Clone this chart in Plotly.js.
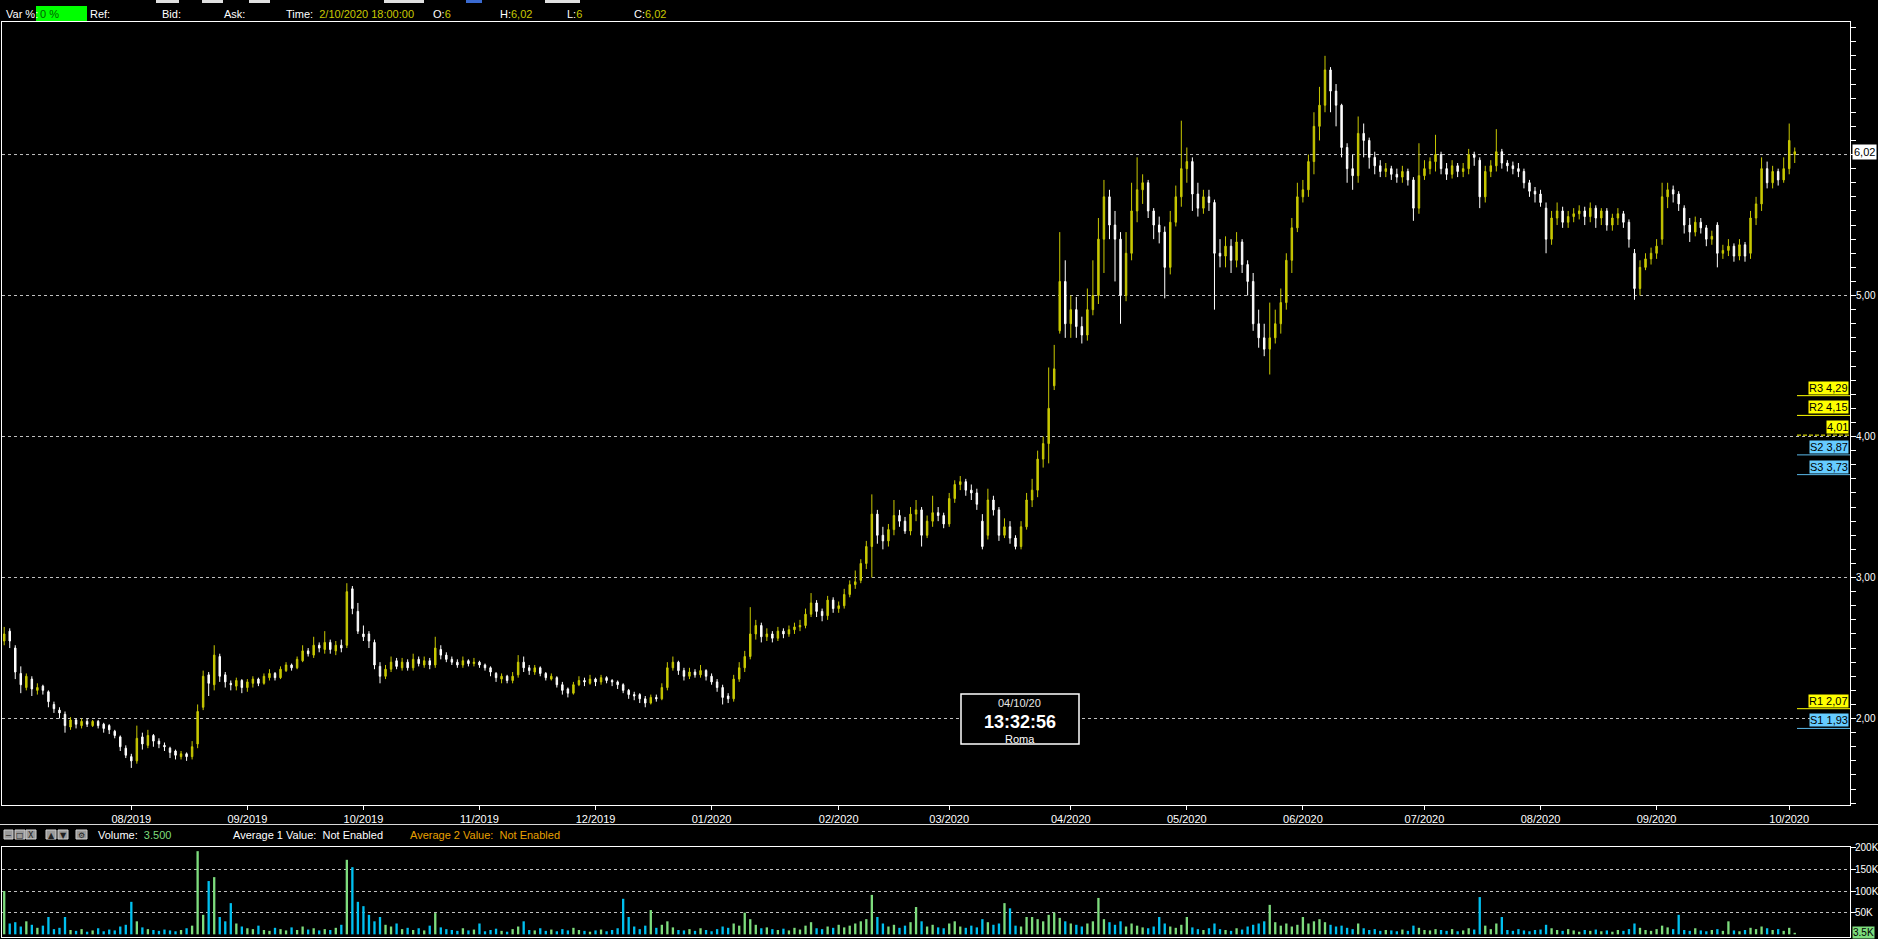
<!DOCTYPE html>
<html><head><meta charset="utf-8">
<script src="https://cdn.plot.ly/plotly-3.0.1.min.js"></script>
<style>html,body{margin:0;padding:0;background:#000;overflow:hidden}#chart{width:1878px;height:939px}</style>
</head><body><div id="chart"></div>
<script>
// ---------- DATA ----------
const monthLabels = ['08/2019','09/2019','10/2019','11/2019','12/2019','01/2020','02/2020','03/2020','04/2020','05/2020','06/2020','07/2020','08/2020','09/2020','10/2020'];
// bars in each month: 07/2019 ... 10/2020
const barsPerMonth = [23,21,21,21,21,21,23,20,22,21,21,22,21,21,24,2];

const openP = [
2.55,2.62,2.50,2.32,2.22,2.28,2.20,2.23,2.19,2.10,
2.06,2.03,1.94,1.99,1.95,1.98,1.95,1.98,1.96,1.95,
1.91,1.87,1.79,1.73,1.70,1.87,1.81,1.88,1.84,1.81,
1.79,1.77,1.73,1.75,1.73,1.82,2.08,2.31,2.24,2.44,
2.31,2.25,2.23,2.27,2.22,2.25,2.28,2.25,2.29,2.32,
2.29,2.34,2.38,2.36,2.41,2.48,2.45,2.52,2.49,2.54,
2.48,2.52,2.52,2.92,2.76,2.60,2.60,2.54,2.37,2.30,
2.35,2.41,2.36,2.40,2.36,2.42,2.38,2.41,2.38,2.49,
2.45,2.42,2.40,2.38,2.41,2.39,2.40,2.38,2.36,2.32,
2.28,2.30,2.27,2.31,2.40,2.36,2.33,2.36,2.32,2.28,
2.29,2.24,2.21,2.18,2.24,2.27,2.25,2.28,2.26,2.29,
2.27,2.26,2.24,2.20,2.17,2.17,2.14,2.11,2.15,2.14,
2.22,2.36,2.40,2.34,2.30,2.33,2.31,2.34,2.30,2.26,
2.22,2.16,2.14,2.28,2.36,2.44,2.60,2.66,2.58,2.60,
2.57,2.62,2.60,2.63,2.65,2.66,2.74,2.82,2.76,2.73,
2.84,2.78,2.80,2.88,2.95,2.98,3.10,3.22,3.45,3.30,
3.26,3.34,3.44,3.40,3.33,3.45,3.48,3.30,3.40,3.46,
3.44,3.38,3.56,3.66,3.68,3.62,3.60,3.40,3.30,3.55,
3.48,3.30,3.36,3.28,3.22,3.36,3.55,3.62,3.84,3.95,
4.36,4.75,5.10,4.80,4.90,4.78,4.72,4.90,5.00,5.40,
5.70,5.50,5.40,5.00,5.30,5.60,5.75,5.80,5.60,5.50,
5.45,5.20,5.52,5.70,5.90,5.95,5.72,5.62,5.70,5.66,
5.30,5.28,5.35,5.25,5.38,5.22,5.10,4.80,4.70,4.62,
4.70,4.80,4.95,5.25,5.48,5.70,5.75,5.95,6.20,6.35,
6.60,6.45,6.35,6.05,5.90,5.85,6.15,6.10,5.98,5.92,
5.88,5.90,5.86,5.84,5.88,5.82,5.62,5.85,5.90,5.95,
6.00,5.90,5.86,5.92,5.88,5.90,6.00,5.96,5.70,5.88,
5.92,6.02,5.94,5.92,5.90,5.88,5.80,5.74,5.72,5.62,
5.40,5.55,5.60,5.52,5.56,5.58,5.60,5.56,5.62,5.55,
5.60,5.50,5.55,5.58,5.52,5.30,5.05,5.20,5.26,5.30,
5.40,5.70,5.75,5.72,5.62,5.50,5.45,5.52,5.48,5.40,
5.50,5.30,5.32,5.35,5.28,5.36,5.30,5.55,5.65,5.90,
5.80,5.88,5.82,5.90,6.00];

const highP = [
2.65,2.64,2.52,2.37,2.32,2.30,2.25,2.24,2.20,2.12,
2.08,2.05,2.01,2.00,2.00,2.00,1.99,1.99,1.97,1.96,
1.92,1.88,1.81,1.75,1.95,1.90,1.92,1.89,1.86,1.83,
1.80,1.78,1.77,1.76,1.84,2.10,2.34,2.33,2.52,2.46,
2.33,2.27,2.29,2.28,2.28,2.30,2.29,2.32,2.35,2.33,
2.37,2.40,2.39,2.44,2.52,2.50,2.58,2.54,2.62,2.56,
2.55,2.56,2.96,2.94,2.82,2.66,2.62,2.56,2.40,2.38,
2.44,2.43,2.43,2.42,2.46,2.44,2.44,2.43,2.58,2.52,
2.47,2.44,2.42,2.44,2.42,2.43,2.41,2.39,2.37,2.33,
2.32,2.31,2.33,2.45,2.44,2.38,2.38,2.37,2.33,2.32,
2.30,2.26,2.22,2.26,2.30,2.29,2.31,2.29,2.31,2.30,
2.28,2.27,2.25,2.21,2.19,2.18,2.16,2.17,2.17,2.25,
2.40,2.44,2.41,2.36,2.36,2.35,2.38,2.35,2.32,2.28,
2.24,2.18,2.31,2.40,2.48,2.79,2.70,2.68,2.64,2.62,
2.65,2.64,2.66,2.68,2.70,2.78,2.89,2.84,2.78,2.87,
2.86,2.83,2.92,2.98,3.05,3.13,3.26,3.59,3.48,3.36,
3.38,3.55,3.48,3.43,3.50,3.55,3.50,3.44,3.58,3.50,
3.46,3.60,3.69,3.72,3.70,3.66,3.63,3.45,3.63,3.58,
3.50,3.42,3.40,3.30,3.40,3.60,3.70,3.90,4.00,4.49,
4.65,5.45,5.25,5.00,4.99,4.85,5.05,5.25,5.55,5.82,
5.75,5.60,5.45,5.45,5.80,5.98,5.86,5.82,5.62,5.56,
5.49,5.60,5.78,6.24,6.05,5.98,5.80,5.75,5.75,5.68,
5.40,5.42,5.40,5.45,5.40,5.25,5.16,4.90,4.80,4.95,
4.90,5.05,5.30,5.55,5.80,5.82,6.00,6.30,6.48,6.70,
6.62,6.50,6.36,6.08,6.00,6.27,6.22,6.12,6.02,5.96,
5.94,5.92,5.90,5.92,5.90,5.84,6.08,5.96,5.98,6.14,
6.02,5.94,5.96,5.94,5.94,6.04,6.02,5.98,5.92,5.96,
6.18,6.04,5.96,5.95,5.94,5.90,5.82,5.77,5.75,5.66,
5.60,5.66,5.63,5.60,5.62,5.64,5.63,5.66,5.64,5.62,
5.62,5.58,5.62,5.60,5.54,5.33,5.25,5.30,5.34,5.40,
5.80,5.80,5.78,5.74,5.64,5.55,5.56,5.55,5.50,5.46,
5.52,5.36,5.40,5.37,5.40,5.38,5.60,5.70,5.98,5.95,
5.92,5.90,5.98,6.22,6.05];

const lowP = [
2.52,2.50,2.28,2.18,2.20,2.16,2.17,2.17,2.08,2.04,
2.00,1.90,1.92,1.93,1.93,1.94,1.94,1.93,1.90,1.89,
1.86,1.77,1.72,1.65,1.68,1.78,1.79,1.80,1.79,1.77,
1.72,1.71,1.71,1.70,1.71,1.79,2.06,2.16,2.20,2.26,
2.22,2.20,2.20,2.18,2.19,2.22,2.23,2.24,2.27,2.27,
2.28,2.33,2.34,2.35,2.40,2.44,2.43,2.47,2.46,2.46,
2.45,2.47,2.50,2.74,2.60,2.55,2.50,2.35,2.25,2.28,
2.33,2.35,2.34,2.34,2.34,2.37,2.36,2.35,2.36,2.42,
2.40,2.38,2.36,2.36,2.37,2.37,2.36,2.34,2.30,2.26,
2.25,2.25,2.25,2.29,2.33,2.31,2.31,2.30,2.27,2.27,
2.22,2.17,2.15,2.17,2.23,2.23,2.24,2.23,2.24,2.25,
2.23,2.21,2.18,2.14,2.13,2.11,2.08,2.10,2.12,2.13,
2.20,2.34,2.31,2.27,2.28,2.29,2.29,2.27,2.24,2.19,
2.10,2.11,2.12,2.26,2.33,2.42,2.56,2.54,2.55,2.54,
2.55,2.57,2.58,2.60,2.62,2.64,2.72,2.72,2.69,2.70,
2.75,2.75,2.78,2.86,2.92,2.96,3.06,3.00,3.24,3.20,
3.22,3.30,3.36,3.31,3.30,3.40,3.22,3.28,3.36,3.40,
3.35,3.36,3.53,3.62,3.58,3.55,3.48,3.20,3.27,3.44,
3.26,3.28,3.24,3.20,3.20,3.34,3.50,3.57,3.78,3.81,
4.33,4.73,4.70,4.70,4.70,4.66,4.68,4.86,4.94,5.16,
5.40,5.10,4.80,4.96,5.25,5.52,5.65,5.55,5.40,5.37,
4.98,5.15,5.49,5.63,5.80,5.60,5.56,5.58,5.60,4.90,
5.20,5.20,5.16,5.20,5.16,5.00,4.75,4.63,4.57,4.44,
4.66,4.73,4.90,5.16,5.45,5.66,5.70,5.86,6.10,6.30,
6.30,6.20,5.98,5.80,5.75,5.80,5.98,5.90,5.86,5.84,
5.84,5.82,5.80,5.80,5.78,5.53,5.58,5.82,5.86,5.88,
5.86,5.82,5.83,5.84,5.84,5.86,5.92,5.62,5.66,5.84,
5.88,5.90,5.88,5.86,5.84,5.76,5.70,5.66,5.63,5.30,
5.36,5.50,5.48,5.48,5.52,5.54,5.50,5.52,5.48,5.50,
5.46,5.46,5.50,5.48,5.34,4.97,5.00,5.18,5.22,5.26,
5.36,5.62,5.66,5.60,5.44,5.38,5.42,5.44,5.35,5.36,
5.20,5.26,5.28,5.24,5.25,5.24,5.26,5.50,5.60,5.76,
5.76,5.78,5.80,5.86,5.94];

const closeP = [
2.60,2.55,2.33,2.24,2.30,2.21,2.22,2.20,2.12,2.07,
2.04,1.95,1.99,1.96,1.98,1.96,1.98,1.95,1.93,1.92,
1.88,1.80,1.74,1.70,1.86,1.82,1.88,1.84,1.82,1.80,
1.76,1.74,1.75,1.73,1.80,2.05,2.30,2.25,2.45,2.30,
2.26,2.24,2.27,2.22,2.26,2.28,2.25,2.30,2.32,2.29,
2.35,2.38,2.36,2.42,2.48,2.46,2.52,2.50,2.54,2.49,
2.52,2.50,2.90,2.78,2.62,2.58,2.55,2.38,2.30,2.35,
2.40,2.37,2.40,2.36,2.42,2.39,2.41,2.38,2.50,2.45,
2.42,2.40,2.38,2.41,2.39,2.40,2.38,2.36,2.33,2.29,
2.30,2.27,2.30,2.40,2.36,2.34,2.36,2.32,2.29,2.30,
2.24,2.20,2.18,2.24,2.27,2.26,2.28,2.26,2.29,2.27,
2.26,2.24,2.20,2.17,2.16,2.14,2.11,2.15,2.14,2.22,
2.36,2.40,2.34,2.30,2.33,2.31,2.34,2.30,2.26,2.22,
2.15,2.14,2.28,2.36,2.44,2.60,2.66,2.58,2.60,2.57,
2.62,2.60,2.63,2.65,2.66,2.74,2.82,2.76,2.73,2.84,
2.78,2.80,2.88,2.95,2.97,3.10,3.22,3.45,3.30,3.26,
3.34,3.44,3.40,3.33,3.45,3.48,3.30,3.40,3.46,3.44,
3.38,3.56,3.66,3.68,3.62,3.60,3.52,3.22,3.55,3.48,
3.30,3.36,3.28,3.22,3.36,3.55,3.62,3.84,3.95,4.20,
4.48,5.10,4.80,4.90,4.78,4.72,4.90,5.00,5.40,5.70,
5.50,5.40,5.00,5.30,5.60,5.75,5.80,5.60,5.50,5.45,
5.20,5.52,5.70,5.90,5.95,5.72,5.62,5.70,5.66,5.30,
5.28,5.35,5.25,5.38,5.22,5.10,4.80,4.70,4.62,4.70,
4.80,4.95,5.25,5.48,5.70,5.75,5.95,6.20,6.35,6.60,
6.45,6.35,6.05,5.90,5.85,6.15,6.10,5.98,5.92,5.88,
5.90,5.86,5.84,5.88,5.82,5.62,5.85,5.90,5.95,6.00,
5.90,5.86,5.92,5.88,5.90,6.00,5.98,5.70,5.88,5.92,
6.02,5.94,5.92,5.90,5.88,5.80,5.74,5.72,5.66,5.40,
5.55,5.60,5.52,5.56,5.58,5.60,5.56,5.62,5.55,5.60,
5.50,5.55,5.58,5.52,5.40,5.05,5.20,5.26,5.30,5.35,
5.70,5.75,5.72,5.65,5.50,5.45,5.52,5.48,5.40,5.42,
5.30,5.32,5.35,5.28,5.36,5.28,5.55,5.65,5.90,5.80,
5.88,5.82,5.90,6.10,6.02];

// volume, thousands of shares
const volumeK = [
100,25,28,18,30,22,15,20,40,12,
15,40,10,8,12,6,9,14,7,11,
9,18,22,75,30,16,12,10,8,11,
9,7,10,14,20,192,45,123,132,40,
30,72,25,18,14,12,20,10,8,15,
12,9,16,10,18,11,14,9,12,10,
15,22,172,155,75,65,45,30,40,22,
18,25,12,15,10,14,9,20,49,16,
12,10,8,14,9,11,25,7,10,13,
8,6,12,18,30,10,9,14,8,11,
7,12,9,15,10,8,6,9,11,7,
10,14,82,40,18,12,20,56,15,22,
30,16,10,9,12,8,14,10,7,12,
18,15,25,20,50,35,22,14,16,12,
10,13,9,15,11,20,28,14,12,18,
15,22,16,20,25,30,35,91,40,25,
18,22,15,20,28,63,30,18,22,16,
14,25,30,18,15,20,16,35,28,22,
25,72,60,20,18,40,40,35,30,45,
50,38,30,25,22,18,25,30,84,35,
28,22,30,18,25,20,16,14,18,40,
25,18,15,22,40,16,12,10,14,25,
12,10,8,14,11,18,22,25,30,68,
28,20,25,18,22,40,25,30,35,28,
22,18,20,15,12,25,14,10,12,8,
10,9,7,11,8,20,15,10,9,12,
10,8,12,7,9,14,11,86,20,12,
25,40,10,8,12,9,7,10,11,22,
14,10,8,12,9,6,10,8,11,7,
9,6,10,8,12,25,15,10,8,12,
20,16,12,45,10,8,14,9,7,10,
12,8,30,9,7,10,15,12,18,14,
10,12,8,15,3.5];

const priceTickVals = [2,3,4,5];      // 6,00 label is hidden under the last-price box
const priceGridExtra = [6];
const pivotNames  = ['R3','R2','','S2','S3','R1','S1'];
const pivotValues = [4.29,4.15,4.01,3.87,3.73,2.07,1.93];
const pivotKinds  = ['R','R','P','S','S','R','S'];
const volTickVals = [50,100,150,200];
const volTickText = ['50K','100K','150K','200K'];
const lastPrice = 6.02;
const lastVolumeK = 3.5;

// ---------- LAYOUT HELPERS ----------
const W = 1878, H = 939;
const px = x => x / W;
const py = y => 1 - y / H;
const FONT = 'Liberation Sans, Arial, sans-serif';
const fmt = v => v.toFixed(2).replace('.', ',');

const idx = closeP.map((_, i) => i);
const tickPos = [];
let acc = 0;
for (let m = 0; m < monthLabels.length; m++) { acc += barsPerMonth[m]; tickPos.push(acc); }

const UP = '#c8c800', DOWN = '#ffffff';
const VUP = '#7ddc7d', VDOWN = '#00c0f0';

const candle = {
  type: 'candlestick', x: idx, open: openP, high: highP, low: lowP, close: closeP,
  xaxis: 'x', yaxis: 'y',
  increasing: {line: {color: UP, width: 1}, fillcolor: UP},
  decreasing: {line: {color: DOWN, width: 1}, fillcolor: DOWN},
  whiskerwidth: 0, hoverinfo: 'skip', showlegend: false
};
const vol = {
  type: 'bar', x: idx, y: volumeK, xaxis: 'x2', yaxis: 'y2', width: 0.42,
  marker: {color: closeP.map((c, i) => c >= openP[i] ? VUP : VDOWN), line: {width: 0}},
  hoverinfo: 'skip', showlegend: false
};

const tf = {color: '#ffffff', size: 11, family: FONT};
const rf = {color: '#ffffff', size: 10, family: FONT};
const shapes = [];
const ann = [];

// extra gridline (6,00) + its axis tick
priceGridExtra.forEach(v => {
  shapes.push({type: 'line', xref: 'paper', yref: 'y', x0: px(2), x1: px(1850), y0: v, y1: v,
    line: {color: '#c0c0c0', width: 1, dash: '3px,3px'}, layer: 'below'});
  shapes.push({type: 'line', xref: 'paper', yref: 'y', x0: px(1850), x1: px(1855), y0: v, y1: v,
    line: {color: '#fff', width: 1}, layer: 'above'});
});

// pivot lines + labels
pivotValues.forEach((v, k) => {
  const kind = pivotKinds[k];
  const col = kind === 'S' ? '#5ab8e8' : '#ffff00';
  shapes.push({type: 'line', xref: 'paper', yref: 'y', x0: px(1797), x1: px(1850), y0: v, y1: v,
    line: {color: col, width: 1, dash: kind === 'P' ? '4px,2px' : 'solid'}, layer: 'above'});
  ann.push({xref: 'paper', yref: 'y', x: px(1849), y: v, xanchor: 'right', yanchor: 'bottom', yshift: 1,
    text: (pivotNames[k] ? pivotNames[k] + ' ' : '') + fmt(v), showarrow: false,
    bgcolor: kind === 'S' ? '#66ccff' : '#ffff00', borderpad: 0,
    font: {color: '#000', size: 11, family: FONT}});
});
// last price box
ann.push({xref: 'paper', yref: 'y', x: px(1852), y: lastPrice, xanchor: 'left', yanchor: 'middle',
  text: fmt(lastPrice), showarrow: false, bgcolor: '#ffffff', borderpad: 1, font: {color: '#000', size: 11, family: FONT}});
// last volume box
ann.push({xref: 'paper', yref: 'y2', x: px(1852), y: lastVolumeK, xanchor: 'left', yanchor: 'middle',
  text: String(lastVolumeK) + 'K', showarrow: false, bgcolor: VUP, borderpad: 0,
  font: {color: '#000', size: 10, family: FONT}});

// clock box
shapes.push({type: 'rect', xref: 'paper', yref: 'paper', x0: px(961), x1: px(1079), y0: py(744), y1: py(694),
  fillcolor: '#000', line: {color: '#fff', width: 1.5}, layer: 'above'});
ann.push({xref: 'paper', yref: 'paper', x: px(1020), y: py(703), xanchor: 'center', yanchor: 'middle', showarrow: false,
  text: '04/10/20', font: {color: '#e8e8e8', size: 11, family: FONT}});
ann.push({xref: 'paper', yref: 'paper', x: px(1020), y: py(722), xanchor: 'center', yanchor: 'middle', showarrow: false,
  text: '<b>13:32:56</b>', font: {color: '#ffffff', size: 18, family: FONT}});
ann.push({xref: 'paper', yref: 'paper', x: px(1020), y: py(739), xanchor: 'center', yanchor: 'middle', showarrow: false,
  text: 'Roma', font: {color: '#ffffff', size: 11, family: FONT}});

// top info bar
const topY = py(14);
shapes.push({type: 'rect', xref: 'paper', yref: 'paper', x0: px(36), x1: px(87), y0: py(21), y1: py(6),
  fillcolor: '#00ff00', line: {width: 0}, layer: 'above'});
[[156,179,'#e0e0e0'],[202,223,'#e0e0e0'],[249,270,'#e0e0e0'],[384,424,'#e0e0e0'],[466,482,'#3a6ad0'],[545,580,'#e0e0e0']].forEach(r => {
  shapes.push({type: 'rect', xref: 'paper', yref: 'paper', x0: px(r[0]), x1: px(r[1]), y0: py(3), y1: py(0),
    fillcolor: r[2], line: {width: 0}, layer: 'above'});
});
const Y = '#c8c800';
const topTexts = [
  [4, 'Var %:', '#fff'], [38, '0 %', '#006000'], [88, 'Ref:', '#fff'], [160, 'Bid:', '#fff'], [222, 'Ask:', '#fff'],
  [284, 'Time:  <span style="color:' + Y + '">2/10/2020 18:00:00</span>', '#fff'],
  [431, 'O:<span style="color:' + Y + '">6</span>', '#fff'],
  [498, 'H:<span style="color:' + Y + '">6,02</span>', '#fff'],
  [565, 'L:<span style="color:' + Y + '">6</span>', '#fff'],
  [632, 'C:<span style="color:' + Y + '">6,02</span>', '#fff']
];
topTexts.forEach(t => ann.push({xref: 'paper', yref: 'paper', x: px(t[0]), y: topY, xanchor: 'left', yanchor: 'middle',
  showarrow: false, text: t[1], font: {color: t[2], size: 11, family: FONT}}));

// separator line
shapes.push({type: 'line', xref: 'paper', yref: 'paper', x0: 0, x1: 1, y0: py(824.5), y1: py(824.5),
  line: {color: '#d8d8d8', width: 1}, layer: 'above'});

// volume header: icons + texts
const iconY = py(835);
[[4,13,'\u2212'],[15,25,'\u25A1'],[26,36,'X'],[46,56,'\u25B2'],[58,68,'\u25BC'],[76,87,'\u2699']].forEach(b => {
  shapes.push({type: 'rect', xref: 'paper', yref: 'paper', x0: px(b[0]), x1: px(b[1]), y0: py(839), y1: py(830),
    fillcolor: '#9a9a9a', line: {color: '#d0d0d0', width: 1}, layer: 'above'});
  ann.push({xref: 'paper', yref: 'paper', x: px((b[0] + b[1]) / 2), y: iconY, xanchor: 'center', yanchor: 'middle',
    showarrow: false, text: b[2], font: {color: '#202020', size: 8, family: 'DejaVu Sans'}});
});
const OR = '#e8a000';
[[96, 'Volume:  <span style="color:' + VUP + '">3.500</span>', '#fff'],
 [231, 'Average 1 Value:  Not Enabled', '#fff'],
 [408, 'Average 2 Value:  Not Enabled', OR]].forEach(t => ann.push({xref: 'paper', yref: 'paper', x: px(t[0]), y: iconY,
  xanchor: 'left', yanchor: 'middle', showarrow: false, text: t[1], font: {color: t[2], size: 11, family: FONT}}));

const layout = {
  width: W, height: H, margin: {l: 0, r: 0, t: 0, b: 0, pad: 0},
  paper_bgcolor: '#000', plot_bgcolor: '#000', showlegend: false,
  separators: ',.', boxgap: 0.62, font: {family: FONT, color: '#fff', size: 11},
  xaxis: {domain: [px(2), px(1850)], range: [-0.4, 334.0], anchor: 'y', tickmode: 'array', tickvals: tickPos, ticktext: monthLabels,
    ticks: 'outside', ticklen: 4, tickcolor: '#fff', tickfont: tf, showgrid: false, zeroline: false,
    showline: true, linecolor: '#fff', linewidth: 1, mirror: true, rangeslider: {visible: false}, fixedrange: true},
  yaxis: {domain: [py(805), py(22)], range: [1.387, 6.94], anchor: 'x', side: 'right', tickmode: 'array', tickvals: priceTickVals,
    tickformat: '.2f', ticklabelstandoff: -2,
    ticks: 'outside', ticklen: 5, tickcolor: '#fff', tickfont: rf, showgrid: true, gridcolor: '#c0c0c0', griddash: '3px,3px', gridwidth: 1,
    zeroline: false, showline: true, linecolor: '#fff', linewidth: 1, mirror: true, fixedrange: true,
    minor: {tick0: 0, dtick: 0.1, ticks: 'outside', ticklen: 5, tickcolor: '#fff', showgrid: false}},
  xaxis2: {domain: [px(2), px(1850)], matches: 'x', anchor: 'y2', showticklabels: false, ticks: '', showgrid: false, zeroline: false,
    showline: true, linecolor: '#fff', linewidth: 1, mirror: true, fixedrange: true},
  yaxis2: {domain: [py(937), py(847)], range: [-6.2, 201.6], anchor: 'x2', side: 'right', tickmode: 'array',
    tickvals: volTickVals, ticktext: volTickText, ticklabelstandoff: -3, ticks: 'outside', ticklen: 5, tickcolor: '#fff', tickfont: rf,
    showgrid: true, gridcolor: '#c0c0c0', griddash: '3px,3px', zeroline: false, showline: true, linecolor: '#fff', linewidth: 1,
    mirror: true, fixedrange: true},
  shapes: shapes, annotations: ann
};

Plotly.newPlot('chart', [candle, vol], layout, {displayModeBar: false, staticPlot: true});
</script></body></html>
